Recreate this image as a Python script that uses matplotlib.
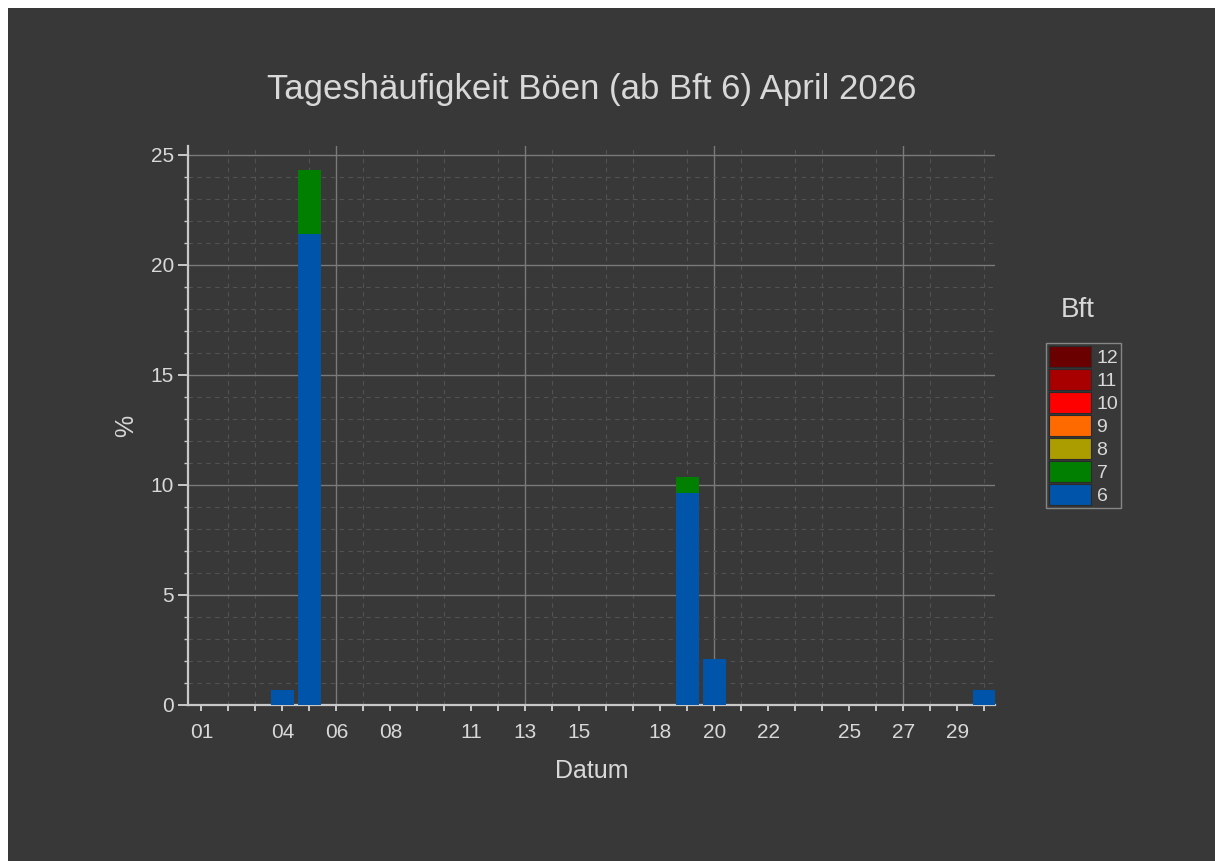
import matplotlib as mpl
mpl.use('Agg')

import numpy as np
import matplotlib.pyplot as plt
from matplotlib.patches import Patch, Rectangle

# daily share of gusts per Beaufort class, April 2026 (days 1..30)
days = np.arange(1, 31)
bft6 = [0, 0, 0, 0.69, 21.4, 0, 0, 0, 0, 0,
        0, 0, 0, 0, 0, 0, 0, 0, 9.65, 2.08,
        0, 0, 0, 0, 0, 0, 0, 0, 0, 0.69]
bft7 = [0, 0, 0, 0, 2.9, 0, 0, 0, 0, 0,
        0, 0, 0, 0, 0, 0, 0, 0, 0.72, 0,
        0, 0, 0, 0, 0, 0, 0, 0, 0, 0]
bft8 = [0] * 30
bft9 = [0] * 30
bft10 = [0] * 30
bft11 = [0] * 30
bft12 = [0] * 30

series = [bft6, bft7, bft8, bft9, bft10, bft11, bft12]
bft_labels = ['6', '7', '8', '9', '10', '11', '12']
colors = ['#0055aa', '#007f00', '#ab9d00', '#ff6a00', '#ff0000', '#a80000', '#6b0000']

tick_days = [1, 4, 6, 8, 11, 13, 15, 18, 20, 22, 25, 27, 29]
week_days = [6, 13, 20, 27]

bg = '#383838'
fg = '#d8d8d8'
plt.rcParams['font.family'] = ['Liberation Sans', 'DejaVu Sans']

fig = plt.figure(figsize=(12.15, 8.61), dpi=100)
fig.patch.set_facecolor(bg)
# thin white edge top and left like the screenshot
fig.patches.append(Rectangle((0, 0), 8 / 1215, 1, transform=fig.transFigure,
                             facecolor='white', edgecolor='none', zorder=10))
fig.patches.append(Rectangle((0, 1 - 8 / 861), 1, 8 / 861, transform=fig.transFigure,
                             facecolor='white', edgecolor='none', zorder=10))

ax = fig.add_axes([188 / 1215, 1 - 705 / 861, (995 - 188) / 1215, (705 - 146) / 861])
ax.set_facecolor(bg)

bottom = np.zeros(len(days))
for vals, col in zip(series, colors):
    v = np.array(vals, dtype=float)
    ax.bar(days, v, width=0.85, bottom=bottom, color=col, zorder=3)
    bottom += v

ax.set_xlim(0.5, 30.4)
ax.set_ylim(0, 25.4)

ax.set_xticks(tick_days)
ax.set_xticklabels(['%02d' % d for d in tick_days])
ax.set_xticks(days, minor=True)
ax.set_yticks([0, 5, 10, 15, 20, 25])
ax.set_yticks(np.arange(0, 26, 1), minor=True)

# grid: dashed per day / per unit, solid weekly and every 5 %
ax.grid(False)
ax.grid(which='minor', axis='both', color='#525252', linestyle=(0, (4, 4)), linewidth=0.8, zorder=1)
ax.grid(which='major', axis='y', color='#7a7a7a', linestyle='-', linewidth=1.0, zorder=1)
for d in week_days:
    ax.axvline(d, color='#7a7a7a', linewidth=1.0, zorder=1)

for s in ['top', 'right']:
    ax.spines[s].set_visible(False)
for s in ['left', 'bottom']:
    ax.spines[s].set_color('#c8c8c8')
    ax.spines[s].set_linewidth(1.6)

ax.tick_params(axis='y', which='major', length=7, width=1.4, color='#c8c8c8',
               labelcolor=fg, labelsize=15, pad=3)
ax.tick_params(axis='y', which='minor', length=3, width=1.0, color='#c8c8c8')
ax.tick_params(axis='x', which='both', length=4, width=1.4, color='#c8c8c8',
               labelcolor=fg, labelsize=15, pad=9)

ax.set_xlabel('Datum', color=fg, fontsize=18)
ax.set_ylabel('%', color=fg, fontsize=18)
ax.xaxis.set_label_coords(0.5, -(771 - 705) / 559)
ax.yaxis.set_label_coords(-(188 - 126) / 807, 0.5)
ax.xaxis.label.set_va('center')
ax.yaxis.label.set_va('center')

fig.text(592 / 1215, 1 - 89 / 861, 'Tageshäufigkeit Böen (ab Bft 6) April 2026',
         color=fg, fontsize=25, ha='center', va='center')

handles = [Patch(facecolor=c, edgecolor='#2a2a2a', linewidth=0.8) for c in colors[::-1]]
leg = fig.legend(handles, bft_labels[::-1], loc='upper left',
                 bbox_to_anchor=(1046 / 1215, 1 - 343 / 861),
                 fontsize=14, handlelength=2.15, handleheight=1.32,
                 labelspacing=0.08, handletextpad=0.3, borderpad=0.15,
                 borderaxespad=0, fancybox=False, frameon=True)
leg.get_frame().set_facecolor(bg)
leg.get_frame().set_edgecolor('#9a9a9a')
leg.get_frame().set_linewidth(1.0)
for t in leg.get_texts():
    t.set_color(fg)
fig.text(1078 / 1215, 1 - 310 / 861, 'Bft', color=fg, fontsize=20, ha='center', va='center')

fig.savefig('out.png', dpi=100, facecolor=fig.get_facecolor())
